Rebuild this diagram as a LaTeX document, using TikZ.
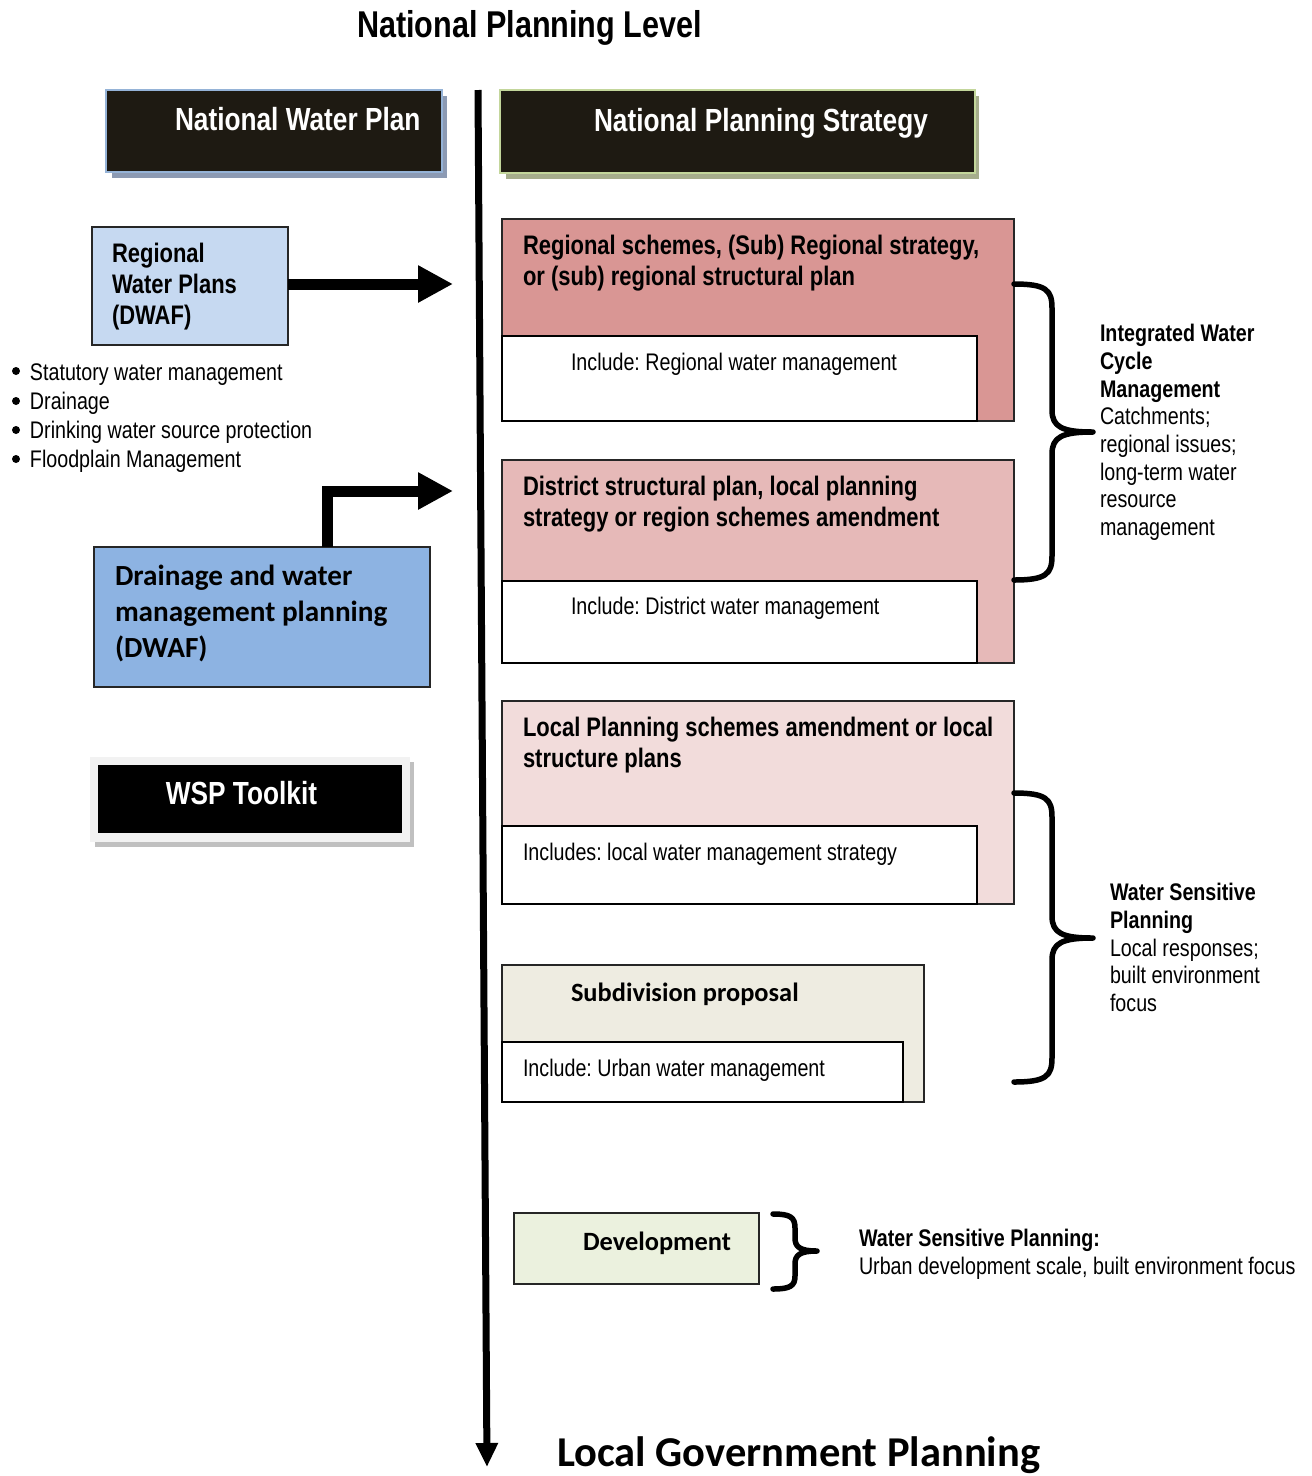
\documentclass[tikz,border=0pt]{standalone}
\usepackage{fontspec}
\newfontfamily\nar[FakeStretch=0.82]{Liberation Sans}
\newfontfamily\calib{Carlito}
\usetikzlibrary{arrows.meta}
\newcommand\fsz[2]{\fontsize{#1}{#2}\selectfont}
\frenchspacing
\definecolor{dkfill}{HTML}{1E1A12}
\definecolor{nwpborder}{HTML}{95B3D7}
\definecolor{nwpshadow}{HTML}{8C9AB3}
\definecolor{npsborder}{HTML}{C3D69B}
\definecolor{npsshadow}{HTML}{A6AD8C}
\definecolor{rwpfill}{HTML}{C6D9F1}
\definecolor{dwpfill}{HTML}{8DB3E2}
\definecolor{regfill}{HTML}{D99694}
\definecolor{distfill}{HTML}{E6B9B8}
\definecolor{locfill}{HTML}{F2DCDB}
\definecolor{subfill}{HTML}{EEECE1}
\definecolor{devfill}{HTML}{EBF1DE}
\definecolor{wspframe}{HTML}{F2F2F2}
\definecolor{wspshadow}{HTML}{C0C0C0}
\begin{document}
\begin{tikzpicture}[x=1pt,y=-1pt,
  every node/.style={inner sep=0pt,outer sep=0pt},
  box/.style={draw=black!85,line width=1.6pt,anchor=north west},
  innerbox/.style={draw=black,fill=white,line width=1.6pt,anchor=north west},
  txt/.style={anchor=base west,font=\nar\frenchspacing\fsz{24}{28}},
  head/.style={anchor=base west,font=\nar\bfseries\fsz{26.8}{31}},
  bigarrow/.style={line width=11pt,-{Triangle[length=35pt,width=35pt]}},
  brace/.style={line width=5.5pt,line cap=round,line join=round},
  bulletdot/.style={fill=black}
]
\useasboundingbox (0,0) rectangle (1312,1476);

% title
\node[anchor=base west,font=\nar\bfseries\fsz{37.3}{44}] (title) at (357,37) {National Planning Level};

% national boxes
\fill[nwpshadow] (112,96) rectangle (447,178);
\node[box,fill=dkfill,draw=nwpborder,line width=2.5pt,minimum width=336,minimum height=82] (nwp) at (106,90) {};
\node[anchor=base west,font=\nar\bfseries\fsz{32}{38},text=white] (nwpt) at (175,130) {National Water Plan};

\fill[npsshadow] (506,96) rectangle (979,179);
\node[box,fill=dkfill,draw=npsborder,line width=2.5pt,minimum width=475,minimum height=83] (nps) at (500,90) {};
\node[anchor=base west,font=\nar\bfseries\fsz{32}{38},text=white] (npst) at (594,131) {National Planning Strategy};

% main axis arrow
\coordinate (axtop) at (478,90);
\coordinate (axbot) at (487,1467);
\draw[line width=7pt,-{Triangle[length=24pt,width=21pt]}] (axtop) -- (axbot);

% regional water plans
\node[box,fill=rwpfill,minimum width=196,minimum height=118] (rwp) at (92,227) {};
\node[head] (rwpt) at (112,262) {\begin{tabular}[t]{@{}l@{}}Regional\\Water Plans\\(DWAF)\end{tabular}};
\coordinate (a1end) at (453,284);
\draw[bigarrow] (rwp.east |- a1end) -- (a1end);

% bullet list
\foreach \by in {371,401,430,459} \fill[bulletdot] (16,\by) circle (4);
\node[anchor=base west,font=\nar\fsz{24}{29.3}] (bul) at (30,380) {\begin{tabular}[t]{@{}l@{}}Statutory water management\\Drainage\\Drinking water source protection\\Floodplain Management\end{tabular}};

% drainage and water management
\node[box,fill=dwpfill,minimum width=336,minimum height=140] (dwp) at (94,547) {};
\node[anchor=base west,font=\calib\bfseries\fsz{29.2}{36}] (dwpt) at (115,585) {\begin{tabular}[t]{@{}l@{}}Drainage and water\\management planning\\(DWAF)\end{tabular}};
\coordinate (e0) at (327.5,547);
\coordinate (a2end) at (453,491);
\draw[line width=11pt,line join=miter,-{Triangle[length=35pt,width=35pt]}] (e0) |- (a2end);

% WSP toolkit
\fill[wspshadow] (95,762) rectangle (414,847);
\fill[wspframe] (90,757) rectangle (410,842);
\node[box,draw=none,fill=black,minimum width=304,minimum height=68] (wsp) at (98,765) {};
\node[anchor=base,font=\nar\bfseries\fsz{32}{38},text=white] (wspt) at (241.5,804.5) {WSP Toolkit};

% regional schemes
\node[box,fill=regfill,minimum width=512,minimum height=202] (reg) at (502,219) {};
\node[innerbox,minimum width=475,minimum height=85] (regin) at (502,336) {};
\node[head] (regt) at (523,254) {\begin{tabular}[t]{@{}l@{}}Regional schemes, (Sub) Regional strategy,\\or (sub) regional structural plan\end{tabular}};
\node[txt] (regint) at (571,370.5) {Include: Regional water management};

% district
\node[box,fill=distfill,minimum width=512,minimum height=203] (dist) at (502,460) {};
\node[innerbox,minimum width=475,minimum height=82] (distin) at (502,581) {};
\node[head] (distt) at (523,495) {\begin{tabular}[t]{@{}l@{}}District structural plan, local planning\\strategy or region schemes amendment\end{tabular}};
\node[txt] (distint) at (571,614.5) {Include: District water management};

% local
\node[box,fill=locfill,minimum width=512,minimum height=203] (loc) at (502,701) {};
\node[innerbox,minimum width=475,minimum height=78] (locin) at (502,826) {};
\node[head] (loct) at (523,736) {\begin{tabular}[t]{@{}l@{}}Local Planning schemes amendment or local\\structure plans\end{tabular}};
\node[txt] (locint) at (523,860.5) {Includes: local water management strategy};

% subdivision
\node[box,fill=subfill,minimum width=422,minimum height=137] (sub) at (502,965) {};
\node[innerbox,minimum width=401,minimum height=60] (subin) at (502,1042) {};
\node[anchor=base west,font=\calib\bfseries\fsz{26.4}{31}] (subt) at (571,1001) {Subdivision proposal};
\node[txt] (subint) at (523,1076.5) {Include: Urban water management};

% development
\node[box,fill=devfill,minimum width=245,minimum height=71] (dev) at (514,1213) {};
\node[anchor=base west,font=\calib\bfseries\fsz{26.4}{31}] (devt) at (583,1250) {Development};

% braces
\coordinate (b1a) at (1014,284);
\coordinate (b1t) at (1093,432);
\coordinate (b1b) at (1014,580);
\draw[brace] (b1a) .. controls (1046,284) and (1052,290) .. (1052,308) -- (1052,410)
  .. controls (1052,427) and (1062,432) .. (b1t)
  .. controls (1062,432) and (1052,437) .. (1052,454) -- (1052,556)
  .. controls (1052,574) and (1046,580) .. (b1b);
\coordinate (b2a) at (1014,793);
\coordinate (b2t) at (1093,938);
\coordinate (b2b) at (1014,1082);
\draw[brace] (b2a) .. controls (1046,793) and (1052,799) .. (1052,817) -- (1052,916)
  .. controls (1052,933) and (1062,938) .. (b2t)
  .. controls (1062,938) and (1052,943) .. (1052,960) -- (1052,1058)
  .. controls (1052,1076) and (1046,1082) .. (b2b);
\coordinate (b3a) at (773,1214);
\coordinate (b3t) at (817,1251);
\coordinate (b3b) at (773,1289);
\draw[brace] (b3a) .. controls (790,1214) and (795,1217) .. (795,1228) -- (795,1238)
  .. controls (795,1247) and (800,1251) .. (b3t)
  .. controls (800,1251) and (795,1255) .. (795,1264) -- (795,1276)
  .. controls (795,1286) and (790,1289) .. (b3b);

% side texts
\node[anchor=base west,font=\nar\fsz{24}{27.7}] (icm) at (1100,341.6) {\begin{tabular}[t]{@{}l@{}}\textbf{Integrated Water}\\\textbf{Cycle}\\\textbf{Management}\\Catchments;\\regional issues;\\long-term water\\resource\\management\end{tabular}};
\node[anchor=base west,font=\nar\fsz{24}{27.75}] (wspl) at (1110,900.6) {\begin{tabular}[t]{@{}l@{}}\textbf{Water Sensitive}\\\textbf{Planning}\\Local responses;\\built environment\\focus\end{tabular}};
\node[anchor=base west,font=\nar\fsz{24}{28}] (wspd) at (859,1246.6) {\begin{tabular}[t]{@{}l@{}}\textbf{Water Sensitive Planning:}\\Urban development scale, built environment focus\end{tabular}};

% bottom label
\node[anchor=base west,font=\calib\bfseries\fsz{42.5}{50}] (lgp) at (557,1466) {Local Government Planning};
\end{tikzpicture}
\end{document}
